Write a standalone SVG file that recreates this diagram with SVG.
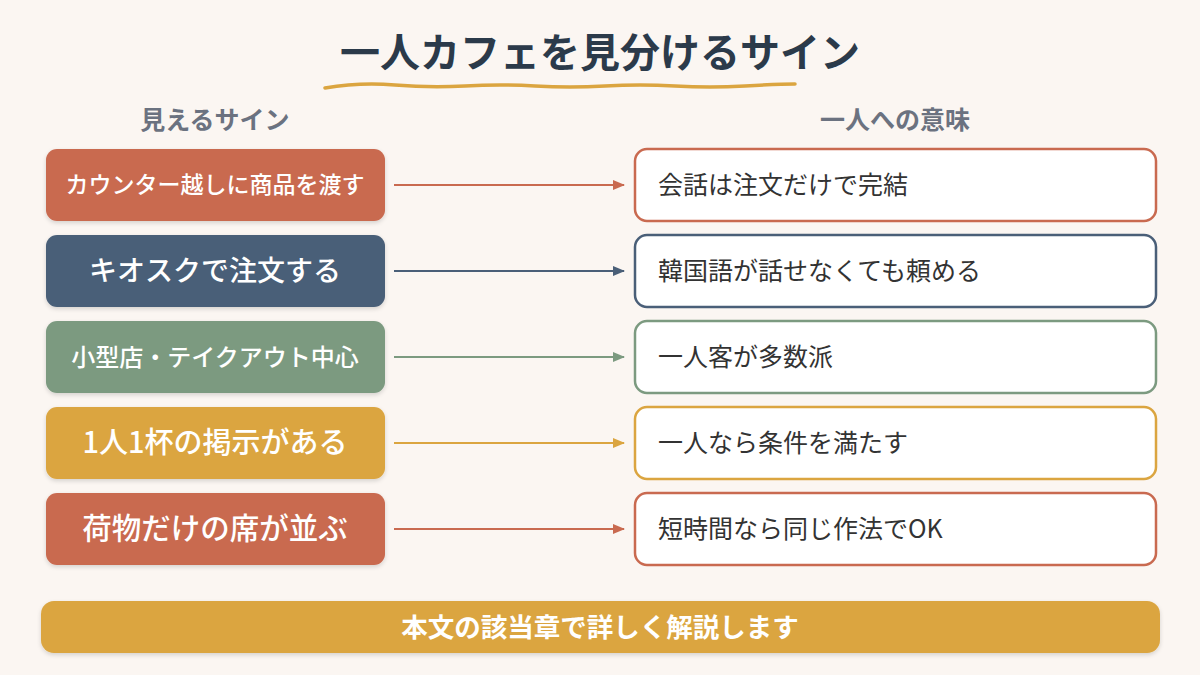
<svg xmlns="http://www.w3.org/2000/svg" width="1200" height="675" viewBox="0 0 1200 675">
<defs>
<style>
text{font-family:"Noto Sans CJK JP","Noto Sans",sans-serif}
.title{font-size:40px;font-weight:700;fill:#2b3a4a}
.hdr{font-size:25px;font-weight:700;fill:#6b7280}
.lt{fill:#fff;font-weight:500;text-anchor:middle}
.rt{font-size:25px;font-weight:400;fill:#333}
.rb{fill:#fff;stroke-width:2.5}
.ln{stroke-width:2;fill:none}
</style>
<filter id="sh" x="-10%" y="-10%" width="120%" height="130%"><feDropShadow dx="0" dy="2" stdDeviation="2" flood-color="#000" flood-opacity="0.15"/></filter>
<marker id="a1" markerWidth="12" markerHeight="10" refX="11" refY="5" orient="auto" markerUnits="userSpaceOnUse"><path d="M0,0 L12,5 L0,10 Z" fill="#c96a50"/></marker>
<marker id="a2" markerWidth="12" markerHeight="10" refX="11" refY="5" orient="auto" markerUnits="userSpaceOnUse"><path d="M0,0 L12,5 L0,10 Z" fill="#4a5f78"/></marker>
<marker id="a3" markerWidth="12" markerHeight="10" refX="11" refY="5" orient="auto" markerUnits="userSpaceOnUse"><path d="M0,0 L12,5 L0,10 Z" fill="#7c9a80"/></marker>
<marker id="a4" markerWidth="12" markerHeight="10" refX="11" refY="5" orient="auto" markerUnits="userSpaceOnUse"><path d="M0,0 L12,5 L0,10 Z" fill="#dba540"/></marker>
</defs>
<rect width="1200" height="675" fill="#fbf6f2"/>
<g id="title">
<text class="title" x="600" y="67" text-anchor="middle">一人カフェを見分けるサイン</text>
<path d="M325,88 Q360,82 395,85 T465,86 T535,86 T605,86 T675,86 T745,86 T795,84" stroke="#dba540" stroke-width="3.5" fill="none" stroke-linecap="round"/>
</g>
<g id="headers">
<text class="hdr" x="215" y="129" text-anchor="middle">見えるサイン</text>
<text class="hdr" x="895" y="129" text-anchor="middle">一人への意味</text>
</g>
<g id="connectors">
<line class="ln" x1="394" y1="185" x2="624" y2="185" stroke="#c96a50" marker-end="url(#a1)"/>
<line class="ln" x1="394" y1="271" x2="624" y2="271" stroke="#4a5f78" marker-end="url(#a2)"/>
<line class="ln" x1="394" y1="357" x2="624" y2="357" stroke="#7c9a80" marker-end="url(#a3)"/>
<line class="ln" x1="394" y1="443" x2="624" y2="443" stroke="#dba540" marker-end="url(#a4)"/>
<line class="ln" x1="394" y1="529" x2="624" y2="529" stroke="#c96a50" marker-end="url(#a1)"/>
</g>
<g id="sign1"><rect x="46" y="149" width="339" height="72" rx="11" fill="#c96a50" filter="url(#sh)"/><text class="lt" x="215" y="193" font-size="23">カウンター越しに商品を渡す</text></g>
<g id="sign2"><rect x="46" y="235" width="339" height="72" rx="11" fill="#4a5f78" filter="url(#sh)"/><text class="lt" x="215" y="281" font-size="28">キオスクで注文する</text></g>
<g id="sign3"><rect x="46" y="321" width="339" height="72" rx="11" fill="#7c9a80" filter="url(#sh)"/><text class="lt" x="215" y="366" font-size="24">小型店・テイクアウト中心</text></g>
<g id="sign4"><rect x="46" y="407" width="339" height="72" rx="11" fill="#dba540" filter="url(#sh)"/><text class="lt" x="215" y="453" font-size="29">1人1杯の掲示がある</text></g>
<g id="sign5"><rect x="46" y="493" width="339" height="72" rx="11" fill="#c96a50" filter="url(#sh)"/><text class="lt" x="215" y="539" font-size="29.5">荷物だけの席が並ぶ</text></g>
<g id="mean1"><rect class="rb" x="635" y="149" width="521" height="72" rx="12" stroke="#c96a50"/><text class="rt" x="658" y="194">会話は注文だけで完結</text></g>
<g id="mean2"><rect class="rb" x="635" y="235" width="521" height="72" rx="12" stroke="#4a5f78"/><text class="rt" x="658" y="280">韓国語が話せなくても頼める</text></g>
<g id="mean3"><rect class="rb" x="635" y="321" width="521" height="72" rx="12" stroke="#7c9a80"/><text class="rt" x="658" y="366">一人客が多数派</text></g>
<g id="mean4"><rect class="rb" x="635" y="407" width="521" height="72" rx="12" stroke="#dba540"/><text class="rt" x="658" y="452">一人なら条件を満たす</text></g>
<g id="mean5"><rect class="rb" x="635" y="493" width="521" height="72" rx="12" stroke="#c96a50"/><text class="rt" x="658" y="538">短時間なら同じ作法でOK</text></g>
<g id="banner"><rect x="41" y="601" width="1119" height="52" rx="13" fill="#dba540" filter="url(#sh)"/><text x="600" y="637" text-anchor="middle" font-size="26.5" font-weight="700" fill="#fff">本文の該当章で詳しく解説します</text></g>
</svg>
